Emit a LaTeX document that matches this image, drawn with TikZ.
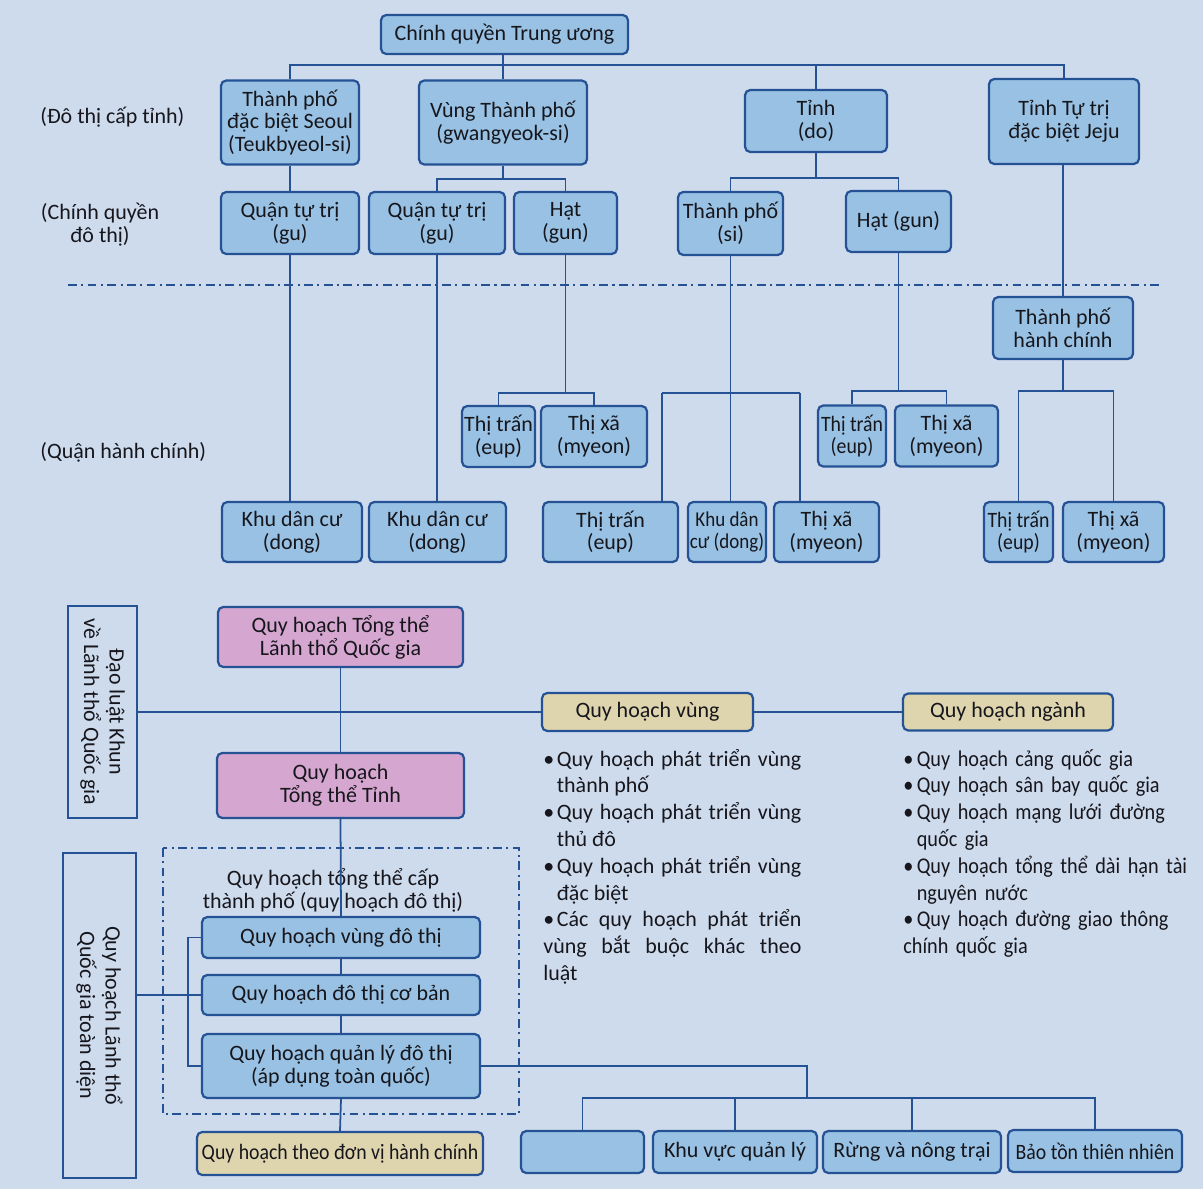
\documentclass[tikz,border=0pt]{standalone}
\usepackage{fontspec}
\setmainfont{Carlito}
\newfontfamily\narrowfont{Carlito}[FakeStretch=0.9]

\definecolor{pagebg}{RGB}{206,219,237}
\definecolor{boxblue}{RGB}{152,193,227}
\definecolor{edgeblue}{RGB}{36,82,148}
\definecolor{boxpink}{RGB}{213,166,207}
\definecolor{boxtan}{RGB}{222,213,174}
\definecolor{inkgray}{RGB}{22,22,28}

\newcommand{\bitem}{\par\noindent\hangindent=0.27cm\hangafter=1\makebox[0.27cm][l]{\textbullet}}

\tikzset{
  govbox/.style={draw=edgeblue, fill=boxblue, line width=1.25pt, rounded corners=3pt,
    align=center, inner sep=1pt, text=inkgray, font=\fontsize{12.5}{13}\selectfont},
  bx/.style 2 args={govbox, minimum width=#1*0.02cm, minimum height=#2*0.02cm},
  pinkbx/.style 2 args={bx={#1}{#2}, fill=boxpink},
  tanbx/.style 2 args={bx={#1}{#2}, fill=boxtan},
  lawbx/.style 2 args={bx={#1}{#2}, fill=none, sharp corners, rotate=-90,
    font=\fontsize{12.5}{14.5}\selectfont},
  narrow/.style={font=\narrowfont\fontsize{12.5}{13}\selectfont},
  conn/.style={draw=edgeblue, line width=1pt},
  dashdot line/.style={draw=edgeblue, line width=1.1pt, dash pattern=on 5pt off 2.5pt on 1.2pt off 2.5pt},
  lbl/.style={text=inkgray, font=\fontsize{12.5}{13}\selectfont, inner sep=0pt, align=center},
  bullets/.style={text=inkgray, font=\fontsize{12.5}{15.25}\selectfont, inner sep=0pt, anchor=north west},
}

\begin{document}
\begin{tikzpicture}[x=0.02cm, y=-0.02cm]
  \fill[pagebg] (0,0) rectangle (1203,1189);
  \useasboundingbox (0,0) rectangle (1203,1189);
  %
  \node[lbl, anchor=west] (l1) at (40,117) {(Đô thị cấp tỉnh)};
  \node[lbl] (l2) at (100,225) {(Chính quyền\\đô thị)};
  \node[lbl, anchor=west] (l3) at (40,452) {(Quận hành chính)};
  %
  \node[bx={247}{39}] (cq) at (504.5,34.5) {Chính quyền Trung ương};
  \node[bx={138}{84}] (seoul) at (290,122.5) {Thành phố\\đặc biệt Seoul\\(Teukbyeol-si)};
  \node[bx={168}{84}] (vung) at (503,122.5) {Vùng Thành phố\\(gwangyeok-si)};
  \node[bx={142}{62}] (tinh) at (816,121) {Tỉnh\\(do)};
  \node[bx={150}{85}] (jeju) at (1064,121.5) {Tỉnh Tự trị\\đặc biệt Jeju};
  %
  \node[bx={138}{62}] (gu1) at (290,223) {Quận tự trị\\(gu)};
  \node[bx={136}{62}] (gu2) at (437,223) {Quận tự trị\\(gu)};
  \node[bx={103}{62}] (hat1) at (565.5,223) {Hạt\\(gun)};
  \node[bx={105}{63}] (tpsi) at (730.5,223.5) {Thành phố\\(si)};
  \node[bx={105}{61}] (hat2) at (898.5,221.5) {Hạt (gun)};
  %
  \node[bx={140}{62}] (tphc) at (1063,328) {Thành phố\\hành chính};
  %
  \node[bx={73}{61}] (tt1) at (498.5,436.5) {Thị trấn\\(eup)};
  \node[bx={106}{61}] (tx1) at (594,436.5) {Thị xã\\(myeon)};
  \node[bx={68}{61}, narrow] (tt2) at (852,436) {Thị trấn\\(eup)};
  \node[bx={103}{61}] (tx2) at (946.5,436) {Thị xã\\(myeon)};
  %
  \node[bx={140}{60}] (kdc1) at (292,532) {Khu dân cư\\(dong)};
  \node[bx={137}{60}] (kdc2) at (437.5,532) {Khu dân cư\\(dong)};
  \node[bx={135}{60}] (tt3) at (610.5,532) {Thị trấn\\(eup)};
  \node[bx={78}{60}, font=\narrowfont\fontsize{12}{13}\selectfont] (kdc3) at (727,532) {Khu dân\\cư (dong)};
  \node[bx={105}{60}] (tx3) at (826.5,532) {Thị xã\\(myeon)};
  \node[bx={69}{60}, narrow] (tt4) at (1018.5,532) {Thị trấn\\(eup)};
  \node[bx={101}{60}] (tx4) at (1113.5,532) {Thị xã\\(myeon)};
  %
  \coordinate (h0) at (503,65);
  \coordinate (j1) at (503,179);
  \coordinate (j2) at (816,178);
  \coordinate (j3) at (565.5,393);
  \coordinate (j4) at (898.5,391);
  \coordinate (j5a) at (662,393);
  \coordinate (j5b) at (800,393);
  \coordinate (j6) at (1063,391);
  \draw[conn] (vung.north) -- (vung.north |- cq.south);
  \draw[conn] (seoul.north) |- (jeju.north |- h0) -- (jeju.north);
  \draw[conn] (tinh.north) -- (tinh.north |- h0);
  \draw[conn] (seoul.south) -- (gu1.north);
  \draw[conn] (gu1.south) -- (gu1.south |- kdc1.north);
  \draw[conn] (vung.south) -- (j1);
  \draw[conn] (gu2.north) |- (j1) -| (hat1.north);
  \draw[conn] (gu2.south) -- (gu2.south |- kdc2.north);
  \draw[conn] (tinh.south) -- (j2);
  \draw[conn] (tpsi.north) |- (j2) -| (hat2.north);
  \draw[conn] (tphc.north) -- (tphc.north |- jeju.south);
  \draw[conn] (hat1.south) -- (j3);
  \draw[conn] (tt1.north) |- (j3) -| (tx1.north);
  \draw[conn] (hat2.south) -- (j4);
  \draw[conn] (tt2.north) |- (j4) -| (tx2.north);
  \draw[conn] (tpsi.south) -- (tpsi.south |- kdc3.north);
  \draw[conn] (j5a) -- (j5b);
  \draw[conn] (j5a) -- (j5a |- tt3.north);
  \draw[conn] (j5b) -- (j5b |- tx3.north);
  \draw[conn] (tphc.south) -- (j6);
  \draw[conn] (tt4.north) |- (j6) -| (tx4.north);
  %
  \draw[dashdot line] (68,285) -- (1162,285);
  %
  \node[lawbx={212}{69}] (dl) at (102.5,712) {Đạo luật Khun\\về Lãnh thổ Quốc gia};
  \node[pinkbx={245}{60}] (qhtt) at (340.5,637) {Quy hoạch Tổng thể\\Lãnh thổ Quốc gia};
  \node[pinkbx={247}{65}] (qhtinh) at (340.5,785.5) {Quy hoạch\\Tổng thể Tỉnh};
  \node[tanbx={211}{38}] (qhv) at (647.5,712) {Quy hoạch vùng};
  \node[tanbx={210}{37}] (qhn) at (1008,712) {Quy hoạch ngành};
  \draw[conn] (dl.north) -- (qhv.west);
  \draw[conn] (qhv.east) -- (qhn.west);
  \draw[conn] (qhtt.south) -- (qhtinh.north);
  %
  \node[bullets, text width=258*0.02cm, align=justify] (lvung) at (543,739) {%
    \bitem Quy hoạch phát triển vùng\linebreak thành phố
    \bitem Quy hoạch phát triển vùng\linebreak thủ đô
    \bitem Quy hoạch phát triển vùng\linebreak đặc biệt
    \bitem Các quy hoạch phát triển\linebreak vùng bắt buộc khác theo\linebreak luật};
  \node[bullets, text width=292*0.02cm, align=left,
        font=\narrowfont\fontsize{12.8}{15.25}\selectfont] (lnganh) at (903,739) {%
    \bitem Quy hoạch cảng quốc gia
    \bitem Quy hoạch sân bay quốc gia
    \bitem Quy hoạch mạng lưới đường\newline quốc gia
    \bitem Quy hoạch tổng thể dài hạn tài\newline nguyên nước
    \bitem Quy hoạch đường giao thông\newline chính quốc gia};
  %
  \draw[dashdot line] (163,848) rectangle (519,1114);
  \node[lbl] (qhtp) at (333,890) {Quy hoạch tổng thể cấp\\thành phố (quy hoạch đô thị)};
  \node[lawbx={325}{73}] (qhlt) at (99.5,1015.5) {Quy hoạch Lãnh thổ\\Quốc gia toàn diện};
  \node[bx={278}{41}] (qhvdt) at (341,937.5) {Quy hoạch vùng đô thị};
  \node[bx={278}{40}] (qhdtcb) at (341,995) {Quy hoạch đô thị cơ bản};
  \node[bx={278}{64}] (qhql) at (341,1066) {Quy hoạch quản lý đô thị\\(áp dụng toàn quốc)};
  \node[tanbx={286}{43}, narrow] (qhdv) at (340,1153.5) {Quy hoạch theo đơn vị hành chính};
  \draw[conn] (qhtinh.south) -- (qhvdt.north);
  \draw[conn] (qhvdt.south) -- (qhdtcb.north);
  \draw[conn] (qhdtcb.south) -- (qhql.north);
  \draw[conn] (qhql.south) -- (qhdv.north);
  \draw[conn] (qhlt.north |- qhdtcb.west) -- (qhdtcb.west);
  \draw[conn] (qhvdt.west) -- ++(-13,0) |- (qhql.west);
  %
  \node[bx={123}{42}] (blank) at (582.5,1152) {};
  \node[bx={164}{42}] (kvql) at (735,1152) {Khu vực quản lý};
  \node[bx={178}{42}] (rung) at (912,1152) {Rừng và nông trại};
  \node[bx={174}{42}, narrow] (bt) at (1095,1151) {Bảo tồn thiên nhiên};
  \coordinate (jb) at (807,1098);
  \draw[conn] (qhql.east) -| (jb);
  \draw[conn] (blank.north) |- (bt.north |- jb) -- (bt.north);
  \draw[conn] (kvql.north) -- (kvql.north |- jb);
  \draw[conn] (rung.north) -- (rung.north |- jb);
\end{tikzpicture}
\end{document}
